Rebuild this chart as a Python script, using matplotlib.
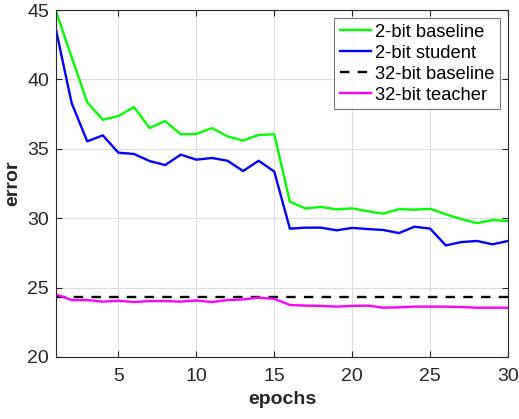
import matplotlib.pyplot as plt
import numpy as np

plt.rcParams['font.family'] = ['Liberation Sans', 'DejaVu Sans']

epochs = np.arange(1, 31)
baseline_2bit = [44.9, 41.6, 38.35, 37.1, 37.36, 38.0, 36.5, 37.0, 36.05, 36.07,
                 36.5, 35.9, 35.6, 36.0, 36.05, 31.19, 30.71, 30.81, 30.64, 30.71,
                 30.5, 30.33, 30.66, 30.61, 30.68, 30.28, 29.94, 29.65, 29.87, 29.8]
student_2bit = [43.56, 38.3, 35.54, 35.97, 34.72, 34.63, 34.12, 33.83, 34.58, 34.22,
                34.34, 34.14, 33.4, 34.14, 33.36, 29.25, 29.32, 29.32, 29.13, 29.3,
                29.22, 29.15, 28.93, 29.39, 29.25, 28.04, 28.28, 28.36, 28.12, 28.36]
baseline_32bit = 24.35
teacher_32bit = [24.51, 24.1, 24.1, 23.99, 24.05, 23.96, 24.03, 24.03, 23.99, 24.07,
                 23.96, 24.1, 24.15, 24.27, 24.19, 23.75, 23.7, 23.68, 23.63, 23.68,
                 23.7, 23.55, 23.58, 23.63, 23.63, 23.63, 23.6, 23.55, 23.55, 23.55]

fig = plt.figure(figsize=(5.19, 4.19), dpi=100)
ax = fig.add_axes([0.108, 0.148, 0.871, 0.828])

lw = 1.7
ax.plot(epochs, baseline_2bit, color='#00ff00', lw=lw, label='2-bit baseline')
ax.plot(epochs, student_2bit, color='#0000ff', lw=lw, label='2-bit student')
ax.plot(epochs, np.full(len(epochs), baseline_32bit), '--', color='black', lw=lw,
        dashes=(4, 3.5), label='32-bit baseline')
ax.plot(epochs, teacher_32bit, color='#ff00ff', lw=lw, label='32-bit teacher')

ax.set_xlim(1, 30)
ax.set_ylim(20, 45)
ax.set_xticks([5, 10, 15, 20, 25, 30])
ax.set_yticks([20, 25, 30, 35, 40, 45])
ax.grid(True, color='#dddddd', lw=0.8)
ax.set_axisbelow(True)
ax.tick_params(direction='in', top=True, right=True, labelsize=14, length=4,
               color='#262626', labelcolor='#262626')
ax.tick_params(axis='x', pad=8)
ax.tick_params(axis='y', pad=5)
for s in ax.spines.values():
    s.set_color('#262626')
    s.set_linewidth(0.8)

ax.set_xlabel('epochs', fontsize=14, fontweight='bold', color='#262626', labelpad=4)
ax.set_ylabel('error', fontsize=14, fontweight='bold', color='#262626', labelpad=4)

leg = ax.legend(loc='upper right', fontsize=13.2, frameon=True, fancybox=False,
                edgecolor='#555555', handlelength=1.7, handletextpad=0.22,
                borderpad=0.3, labelspacing=0.22, borderaxespad=0.45,
                bbox_to_anchor=(1.0, 1.0))
leg.get_frame().set_linewidth(0.8)

fig.savefig('out.png', dpi=100)
